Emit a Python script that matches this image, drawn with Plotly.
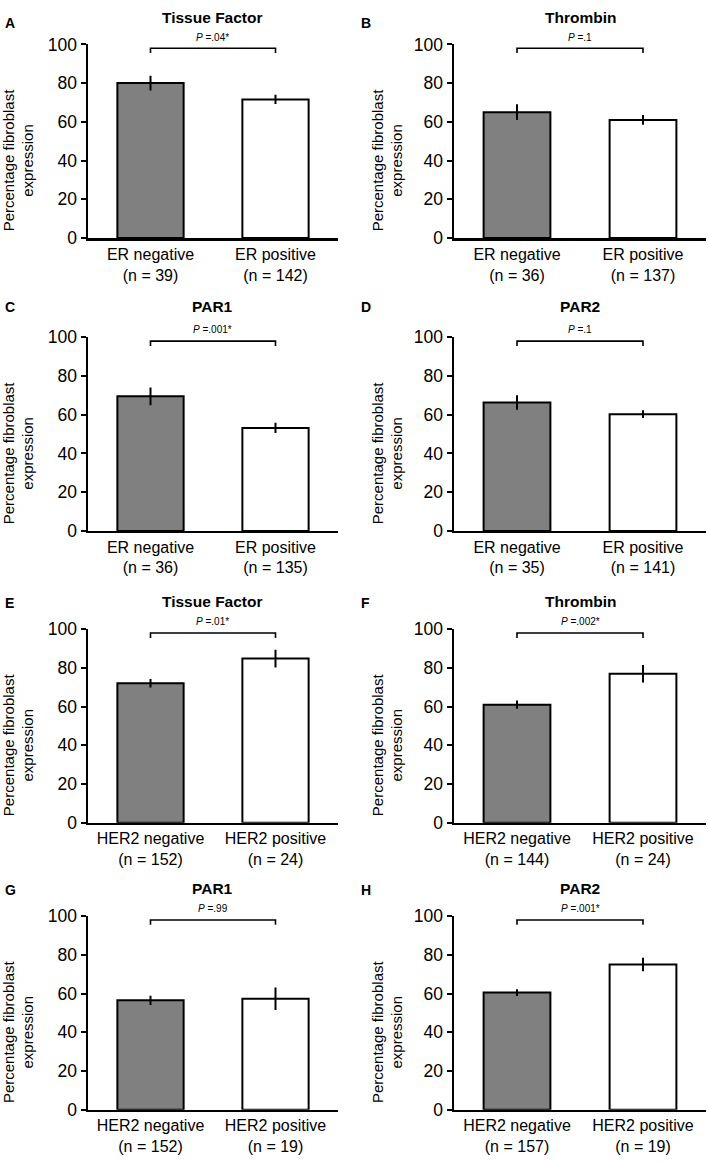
import plotly.graph_objects as go

W, H = 709, 1163

# ---------------- data ----------------
panel_letters = ["A", "B", "C", "D", "E", "F", "G", "H"]
panel_titles = ["Tissue Factor", "Thrombin", "PAR1", "PAR2",
                "Tissue Factor", "Thrombin", "PAR1", "PAR2"]
neg_labels = ["ER negative<br>(n = 39)", "ER negative<br>(n = 36)",
              "ER negative<br>(n = 36)", "ER negative<br>(n = 35)",
              "HER2 negative<br>(n = 152)", "HER2 negative<br>(n = 144)",
              "HER2 negative<br>(n = 152)", "HER2 negative<br>(n = 157)"]
pos_labels = ["ER positive<br>(n = 142)", "ER positive<br>(n = 137)",
              "ER positive<br>(n = 135)", "ER positive<br>(n = 141)",
              "HER2 positive<br>(n = 24)", "HER2 positive<br>(n = 24)",
              "HER2 positive<br>(n = 19)", "HER2 positive<br>(n = 19)"]
neg_mean = [80.0, 65.0, 69.5, 66.3, 72.1, 61.0, 56.5, 60.5]
neg_err = [3.8, 4.1, 4.6, 3.8, 2.2, 2.1, 2.4, 1.8]
pos_mean = [71.6, 61.0, 53.2, 60.3, 84.8, 77.0, 57.3, 75.0]
pos_err = [2.4, 2.5, 2.7, 2.0, 4.6, 4.5, 5.8, 3.5]
p_texts = ["<i>P</i> =.04*", "<i>P</i> =.1", "<i>P</i> =.001*", "<i>P</i> =.1",
           "<i>P</i> =.01*", "<i>P</i> =.002*", "<i>P</i> =.99", "<i>P</i> =.001*"]
bracket_y = [95.5, 98, 98, 95.5]
y_ticks = [0, 20, 40, 60, 80, 100]

# ---------------- layout geometry (pixels) ----------------
col_x = [(88, 338), (454, 706)]
row_y = [(35, 232), (333, 530), (630, 827), (922, 1119)]
title_y = [8, 302, 602, 894]
letter_y = [13, 302, 603, 895]
letter_x = [3, 359]
ytitle_x = [18, 387]

FONT = "Liberation Sans, Arial, sans-serif"


def px(x):
    return x / W


def py(y):
    return 1 - y / H


fig = go.Figure()
layout = dict(
    width=W, height=H,
    margin=dict(l=0, r=0, t=0, b=0),
    paper_bgcolor="white", plot_bgcolor="white",
    showlegend=False,
    font=dict(family=FONT, color="black"),
    bargap=0.47,
)
annotations = []

for i in range(8):
    r, c = divmod(i, 2)
    k = i + 1
    xa = "x" if k == 1 else f"x{k}"
    ya = "y" if k == 1 else f"y{k}"
    xkey = "xaxis" if k == 1 else f"xaxis{k}"
    ykey = "yaxis" if k == 1 else f"yaxis{k}"
    cats = [neg_labels[i], pos_labels[i]]

    fig.add_trace(go.Bar(
        x=cats, y=[neg_mean[i], pos_mean[i]],
        xaxis=xa, yaxis=ya,
        marker=dict(color=["#808080", "white"], line=dict(color="black", width=2)),
        error_y=dict(type="data", array=[neg_err[i], pos_err[i]],
                     color="black", thickness=2, width=0),
        hoverinfo="skip",
    ))
    fig.add_trace(go.Scatter(
        x=[cats[0], cats[0], cats[1], cats[1]], y=bracket_y,
        xaxis=xa, yaxis=ya, mode="lines",
        line=dict(color="black", width=1.6), hoverinfo="skip",
    ))

    x0, x1 = col_x[c]
    y0, y1 = row_y[r]
    layout[xkey] = dict(
        domain=[px(x0), px(x1)], anchor=ya, type="category",
        categoryorder="array", categoryarray=cats,
        range=[-0.5, 1.5], showline=True, linecolor="black", linewidth=2.5,
        ticks="",
        tickfont=dict(size=16, family=FONT, color="black"),
        showgrid=False, zeroline=False, fixedrange=True,
    )
    layout[ykey] = dict(
        domain=[py(y1), py(y0)], anchor=xa, range=[0, 100],
        tickvals=y_ticks, showline=True, linecolor="black", linewidth=2.5,
        ticks="outside", ticklen=5, tickwidth=2, tickcolor="black",
        tickfont=dict(size=17.5, family=FONT, color="black"),
        showgrid=False, zeroline=False, fixedrange=True,
    )

    # p-value text
    annotations.append(dict(
        x=px(x0 + (x1 - x0) / 2), y=py(y0 - 7.5), xref="paper", yref="paper",
        text=p_texts[i], showarrow=False,
        xanchor="center", yanchor="middle",
        font=dict(size=10, family=FONT, color="black"),
    ))
    # panel title
    annotations.append(dict(
        x=px((x0 + x1) / 2), y=py(title_y[r]), xref="paper", yref="paper",
        text=f"<b>{panel_titles[i]}</b>", showarrow=False,
        xanchor="center", yanchor="middle",
        font=dict(size=15.5, family=FONT, color="black"),
    ))
    # panel letter
    annotations.append(dict(
        x=px(letter_x[c]), y=py(letter_y[r]), xref="paper", yref="paper",
        text=f"<b>{panel_letters[i]}</b>", showarrow=False,
        xanchor="left", yanchor="middle",
        font=dict(size=14, family=FONT, color="black"),
    ))
    # y-axis title
    annotations.append(dict(
        x=px(ytitle_x[c]), y=py(y0 + 118), xref="paper", yref="paper",
        text="Percentage fibroblast<br>expression", showarrow=False,
        textangle=-90, xanchor="center", yanchor="middle",
        font=dict(size=15, family=FONT, color="black"),
    ))

layout["annotations"] = annotations
fig.update_layout(**layout)
fig.write_html(
    "out.html",
    config={"displayModeBar": False, "staticPlot": True},
    post_script="document.body.style.margin='0';document.body.style.padding='0';",
)
